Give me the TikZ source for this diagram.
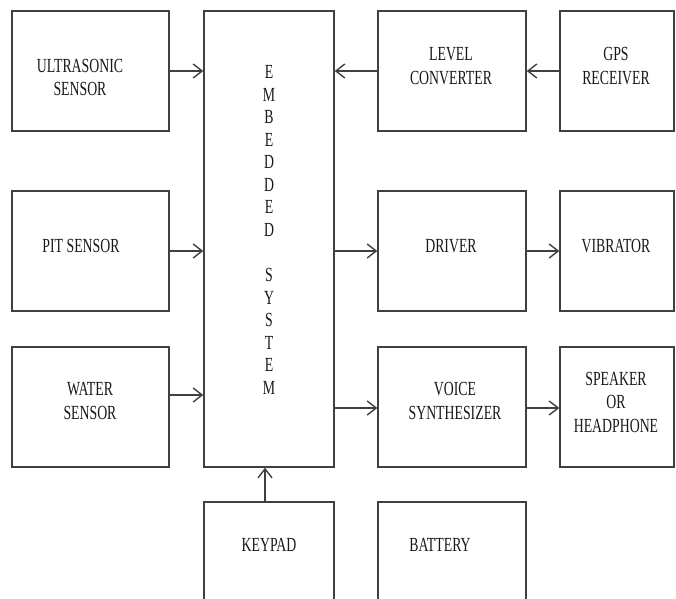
\documentclass[tikz,border=0pt]{standalone}
\usepackage{fontspec}
\setmainfont{Liberation Serif}[FakeStretch=0.69]
\usetikzlibrary{arrows.meta}
\definecolor{ink}{gray}{0.25}
\begin{document}
\begin{tikzpicture}[x=1pt,y=-1pt,
  box/.style={draw=ink, line width=1.4pt, rectangle, inner sep=0pt, fill=white},
  lbl/.style={align=center, inner sep=0pt, text=black!90, font=\fontsize{20}{23.5}\selectfont},
  arr/.style={draw=ink, line width=1.4pt, -{Straight Barb[length=9pt,width=14pt]}}
]
\useasboundingbox (0,0) rectangle (676,598);
\fill[white] (0,0) rectangle (676,598);
\clip (0,0) rectangle (676,598);

% boxes
\node[box, minimum width=157pt, minimum height=120pt] (us) at (90.5,71) {};
\node[box, minimum width=157pt, minimum height=120pt] (pit) at (90.5,251) {};
\node[box, minimum width=157pt, minimum height=120pt] (water) at (90.5,407) {};
\node[box, minimum width=130pt, minimum height=456pt] (emb) at (269,239) {};
\node[box, minimum width=148pt, minimum height=120pt] (level) at (452,71) {};
\node[box, minimum width=114pt, minimum height=120pt] (gps) at (617,71) {};
\node[box, minimum width=148pt, minimum height=120pt] (driver) at (452,251) {};
\node[box, minimum width=114pt, minimum height=120pt] (vib) at (617,251) {};
\node[box, minimum width=148pt, minimum height=120pt] (voice) at (452,407) {};
\node[box, minimum width=114pt, minimum height=120pt] (spk) at (617,407) {};
\node[box, minimum width=130pt, minimum height=118pt] (keypad) at (269,561) {};
\node[box, minimum width=148pt, minimum height=118pt] (battery) at (452,561) {};

% labels
\node[lbl] (us-t) at (80,77.5) {ULTRASONIC\\SENSOR};
\node[lbl] (pit-t) at (81,246) {PIT SENSOR};
\node[lbl] (water-t) at (90,401) {WATER\\SENSOR};
\node[lbl] (level-t) at (451,66) {LEVEL\\CONVERTER};
\node[lbl] (gps-t) at (616,66) {GPS\\RECEIVER};
\node[lbl] (driver-t) at (451,246) {DRIVER};
\node[lbl] (vib-t) at (616,246) {VIBRATOR};
\node[lbl] (voice-t) at (455,401) {VOICE\\SYNTHESIZER};
\node[lbl] (spk-t) at (616,402) {SPEAKER\\OR\\HEADPHONE};
\node[lbl] (keypad-t) at (269,545) {KEYPAD};
\node[lbl] (battery-t) at (440,545) {BATTERY};
\node[lbl, font=\fontsize{20}{22.57}\selectfont] (emb-t) at (269,230)
  {E\\M\\B\\E\\D\\D\\E\\D\\[22.57pt]S\\Y\\S\\T\\E\\M};

% connector anchors
\coordinate (wout) at ([yshift=12pt]water.east);
\coordinate (vin) at ([yshift=-1pt]voice.west);
\coordinate (vout) at ([yshift=-1pt]voice.east);
\coordinate (kout) at ([xshift=-4pt]keypad.north);

% connectors
\draw[arr] (us.east) -- (emb.west |- us.east);
\draw[arr] (pit.east) -- (emb.west |- pit.east);
\draw[arr] (wout) -- (emb.west |- wout);
\draw[arr] (gps.west) -- (level.east);
\draw[arr] (level.west) -- (emb.east |- level.west);
\draw[arr] (emb.east |- driver.west) -- (driver.west);
\draw[arr] (driver.east) -- (vib.west);
\draw[arr] (emb.east |- vin) -- (vin);
\draw[arr] (vout) -- (spk.west |- vout);
\draw[arr] (kout) -- (kout |- emb.south);
\end{tikzpicture}
\end{document}
